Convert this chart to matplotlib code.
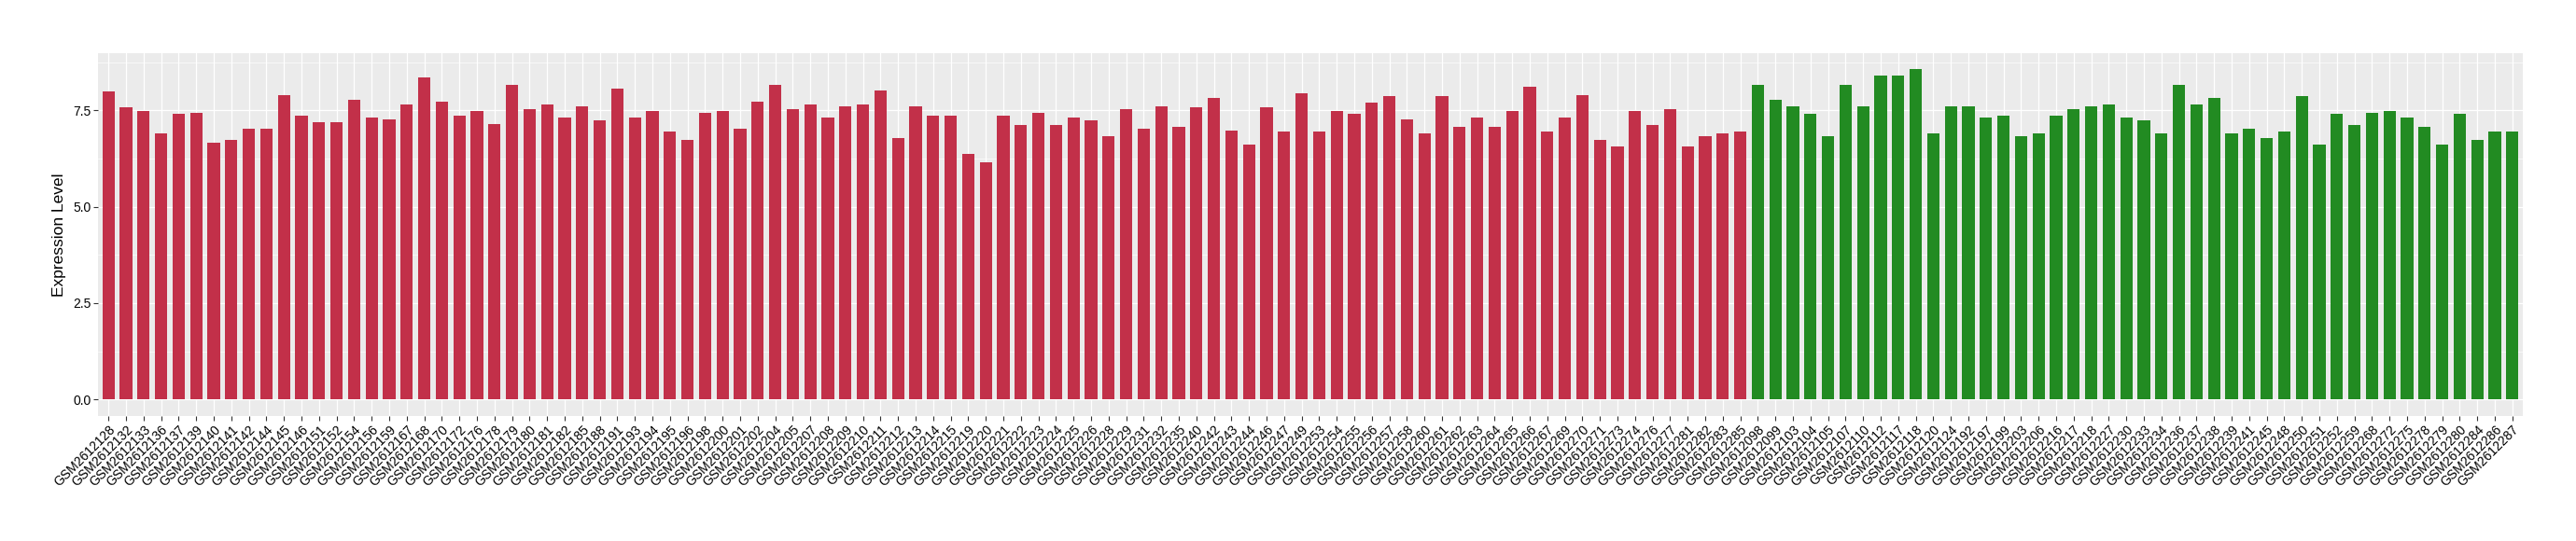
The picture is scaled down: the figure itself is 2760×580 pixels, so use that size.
import numpy as np
import matplotlib
matplotlib.use('Agg')
import matplotlib.pyplot as plt

plt.rcParams['font.family'] = ['Liberation Sans', 'DejaVu Sans']

# sample ids (suffix after GSM2612...) and expression values
tumor_ids = ['128', '132', '133', '136', '137', '139', '140', '141', '142', '144',
             '145', '146', '151', '152', '154', '156', '159', '167', '168', '170',
             '172', '176', '178', '179', '180', '181', '182', '185', '188', '191',
             '193', '194', '195', '196', '198', '200', '201', '202', '204', '205',
             '207', '208', '209', '210', '211', '212', '213', '214', '215', '219',
             '220', '221', '222', '223', '224', '225', '226', '228', '229', '231',
             '232', '235', '240', '242', '243', '244', '246', '247', '249', '253',
             '254', '255', '256', '257', '258', '260', '261', '262', '263', '264',
             '265', '266', '267', '269', '270', '271', '273', '274', '276', '277',
             '281', '282', '283', '285']
tumor_values = [7.98, 7.57, 7.49, 6.89, 7.42, 7.44, 6.67, 6.74, 7.03, 7.01,
                7.90, 7.35, 7.18, 7.18, 7.76, 7.32, 7.27, 7.64, 8.34, 7.73,
                7.37, 7.47, 7.15, 8.15, 7.54, 7.64, 7.32, 7.59, 7.23, 8.05,
                7.32, 7.47, 6.96, 6.74, 7.44, 7.49, 7.01, 7.73, 8.15, 7.54,
                7.64, 7.32, 7.59, 7.64, 8.02, 6.77, 7.61, 7.37, 7.37, 6.36,
                6.16, 7.35, 7.13, 7.44, 7.11, 7.32, 7.23, 6.82, 7.52, 7.03,
                7.59, 7.08, 7.57, 7.81, 6.98, 6.62, 7.57, 6.94, 7.93, 6.94,
                7.49, 7.40, 7.69, 7.86, 7.27, 6.91, 7.86, 7.06, 7.32, 7.06,
                7.49, 8.10, 6.96, 7.30, 7.90, 6.72, 6.57, 7.47, 7.11, 7.54,
                6.55, 6.84, 6.91, 6.96]

normal_ids = ['098', '099', '103', '104', '105', '107', '110', '112', '117', '118',
              '120', '124', '192', '197', '199', '203', '206', '216', '217', '218',
              '227', '230', '233', '234', '236', '237', '238', '239', '241', '245',
              '248', '250', '251', '252', '259', '268', '272', '275', '278', '279',
              '280', '284', '286', '287']
normal_values = [8.15, 7.78, 7.61, 7.40, 6.84, 8.15, 7.61, 8.39, 8.41, 8.56,
                 6.91, 7.61, 7.59, 7.30, 7.37, 6.84, 6.91, 7.37, 7.54, 7.59,
                 7.64, 7.30, 7.25, 6.91, 8.17, 7.64, 7.83, 6.89, 7.03, 6.77,
                 6.94, 7.86, 6.62, 7.40, 7.13, 7.44, 7.47, 7.32, 7.06, 6.62,
                 7.42, 6.72, 6.94, 6.94]

tumor_color = '#C23049'
normal_color = '#228B22'

labels = ['GSM2612' + s for s in tumor_ids + normal_ids]
values = np.array(tumor_values + normal_values)
colors = [tumor_color] * len(tumor_ids) + [normal_color] * len(normal_ids)
x = np.arange(len(labels))

fig = plt.figure(figsize=(27.6, 5.8), dpi=100)
ax = fig.add_axes([105 / 2760, 1 - 446 / 580, (2703 - 105) / 2760, (446 - 56.7) / 580])
ax.set_facecolor('#EBEBEB')

ax.bar(x, values, width=0.7, color=colors, zorder=3)

vmax = values.max()
ax.set_ylim(-0.05 * vmax, 1.05 * vmax)
ax.set_xlim(-0.6, len(labels) - 0.4)

ax.set_yticks([0, 2.5, 5.0, 7.5])
ax.set_yticklabels(['0.0', '2.5', '5.0', '7.5'])
ax.set_yticks([1.25, 3.75, 6.25, 8.75], minor=True)
ax.set_xticks(x)
ax.set_xticklabels(labels, rotation=45, ha='right', va='top', rotation_mode='anchor')

ax.grid(which='major', color='white', linewidth=0.9, zorder=0)
ax.grid(which='minor', axis='y', color='white', linewidth=0.45, zorder=0)
ax.set_axisbelow(True)
for sp in ax.spines.values():
    sp.set_visible(False)

ax.tick_params(axis='both', which='major', length=3.5, width=0.8, color='#333333',
               labelsize=10, labelcolor='black', pad=2)
ax.tick_params(axis='y', which='minor', length=0)
ax.set_ylabel('Expression Level', fontsize=12.5, labelpad=5)

fig.savefig('out.png', dpi=100)
